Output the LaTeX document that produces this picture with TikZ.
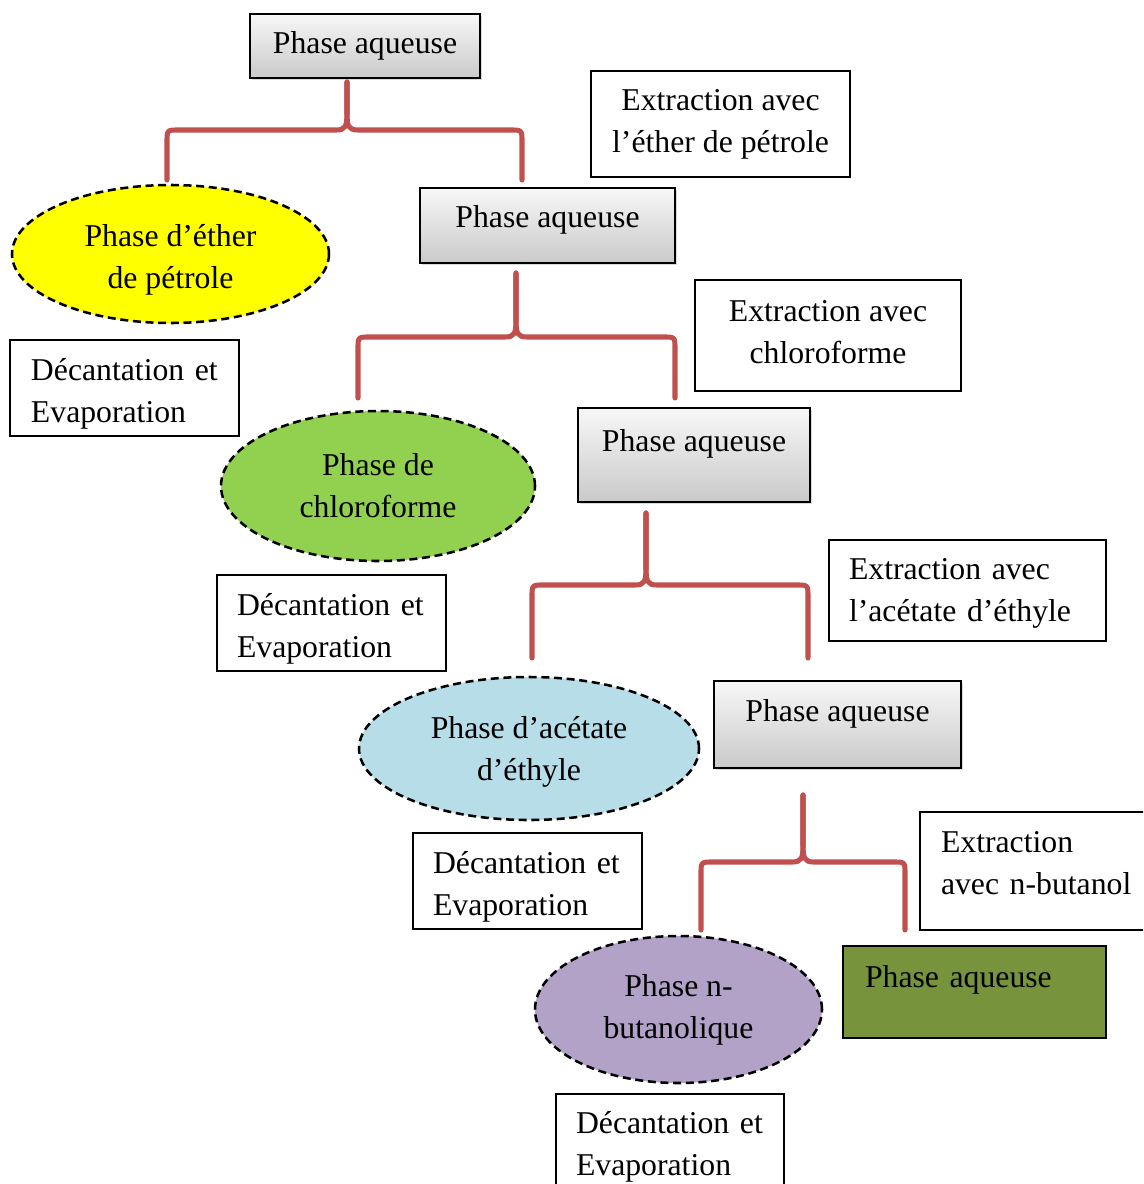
\documentclass[tikz,border=0pt]{standalone}
\usepackage{fontspec}
\setmainfont{Liberation Serif}
\usetikzlibrary{shapes.geometric,shadows}
\definecolor{bracered}{HTML}{C0504D}
\definecolor{olivebox}{HTML}{77933C}
\definecolor{yel}{HTML}{FFFF00}
\definecolor{grn}{HTML}{92D050}
\definecolor{blu}{HTML}{B7DDE8}
\definecolor{pur}{HTML}{B2A2C7}
% #1 spike x, #2 spike top y, #3 left x, #4 right x, #5 horizontal y, #6 bottom y, #7 name
\newcommand{\drawbrace}[7]{%
  \coordinate (#7top) at (#1,#2);
  \coordinate (#7l) at (#3,#6);
  \coordinate (#7r) at (#4,#6);
  \draw[bracestyle] (#7l) -- (#3,#5+12) .. controls (#3,#5) .. (#3+12,#5) -- (#1-11,#5)
     .. controls (#1-1,#5) and (#1,#5-4) .. (#1,#5-18) -- (#7top);
  \draw[bracestyle] (#7top) -- (#1,#5-18) .. controls (#1,#5-4) and (#1+1,#5) .. (#1+11,#5)
     -- (#4-12,#5) .. controls (#4,#5) .. (#4,#5+12) -- (#7r);
}
\newcommand{\upstrut}[1]{\rule{0pt}{#1}}
\newcommand{\dnstrut}[1]{\rule[-#1]{0pt}{1pt}}
\begin{document}
\begin{tikzpicture}[x=0.75pt,y=-0.75pt,
  every node/.style={font=\fontsize{23.8pt}{31.5pt}\selectfont},
  gbox/.style={rectangle, draw=black, line width=1.2pt, top color=gray!6, bottom color=gray!42,
    drop shadow={shadow xshift=1.5pt,shadow yshift=-1.5pt,opacity=0.3},
    inner ysep=1pt, text height=16.7pt},
  obox/.style={rectangle, draw=black, line width=1.6pt, fill=olivebox, inner ysep=1pt,
    text height=16.7pt, align=left},
  tbox/.style={rectangle, draw=black, line width=0.8pt, fill=white, inner ysep=0pt},
  lbox/.style={tbox, align=left},
  cbox/.style={tbox, align=center, inner xsep=0pt},
  ell/.style={ellipse, draw=black, line width=1.9pt, dash pattern=on 6pt off 3.5pt,
    inner sep=0pt, align=center},
  bracestyle/.style={draw=bracered, line width=3.8pt, line cap=round, line join=round}
]
\useasboundingbox (0,0) rectangle (1143,1184);
\clip (0,0) rectangle (1143,1184);

% gray boxes
\node[gbox, minimum width=172.5pt, minimum height=48pt, text depth=5.7pt] (g1) at (365,46) {Phase aqueuse};
\node[gbox, minimum width=191.25pt, minimum height=56.25pt, text depth=14pt] (g2) at (547.5,225.5) {Phase aqueuse};
\node[gbox, minimum width=174pt, minimum height=70.5pt, text depth=22.2pt] (g3) at (694,455) {Phase aqueuse};
\node[gbox, minimum width=185.25pt, minimum height=65.25pt, text depth=21.5pt] (g4) at (837.5,724.5) {Phase aqueuse};
\node[obox, text width=164.25pt, inner xsep=16.5pt, minimum height=69pt, text depth=23.7pt] (g5) at (974.5,992) {Phase aqueuse};

% extraction boxes
\node[cbox, minimum width=194.25pt, minimum height=79.5pt] (t1) at (720.5,124) {Extraction avec\\l’éther de pétrole};
\node[cbox, minimum width=199.5pt, minimum height=83.25pt] (t2) at (828,335.5) {Extraction avec\\chloroforme\dnstrut{6pt}};
\node[lbox, text width=177.75pt, inner xsep=15pt, minimum height=75.75pt] (t6) at (967.5,590.5) {\upstrut{20.8pt}Extraction avec\\l’acétate d’éthyle};
\node[lbox, text width=148.5pt, inner xsep=15.75pt, minimum height=88.5pt] (t8) at (1040,871) {Extraction\\avec n-butanol\dnstrut{12pt}};

% decantation boxes
\node[lbox, text width=140.25pt, inner xsep=15.75pt, minimum height=72pt] (t3) at (124.5,388) {\upstrut{25.3pt}Décantation et\\Evaporation};
\node[lbox, text width=141.75pt, inner xsep=15pt, minimum height=72pt] (t5) at (331.5,623) {\upstrut{25.3pt}Décantation et\\Evaporation};
\node[lbox, text width=141.75pt, inner xsep=15pt, minimum height=72pt] (t7) at (527.5,881) {\upstrut{25.3pt}Décantation et\\Evaporation};
\node[lbox, text width=141pt, inner xsep=15pt, minimum height=72pt] (t9) at (670,1142) {\upstrut{23.8pt}Décantation et\\Evaporation};

% ellipses
\node[ell, fill=yel, minimum width=237.75pt, minimum height=103.5pt] (e1) at (170.5,254) {\upstrut{25.3pt}Phase d’éther\\de pétrole};
\node[ell, fill=grn, minimum width=235.5pt, minimum height=112.5pt] (e2) at (378,486) {Phase de\\chloroforme};
\node[ell, fill=blu, minimum width=255pt, minimum height=107.25pt] (e3) at (529,748.5) {\upstrut{22.3pt}Phase d’acétate\\d’éthyle};
\node[ell, fill=pur, minimum width=215.25pt, minimum height=110.25pt] (e4) at (678.5,1009.5) {Phase n-\\butanolique};

% braces
\drawbrace{347}{82}{167}{522}{130}{180}{ba}
\drawbrace{516}{273}{358}{675}{337}{398}{bb}
\drawbrace{646}{513}{532}{808}{585}{658}{bc}
\drawbrace{803}{795}{701}{905}{862}{930}{bd}
\end{tikzpicture}
\end{document}
